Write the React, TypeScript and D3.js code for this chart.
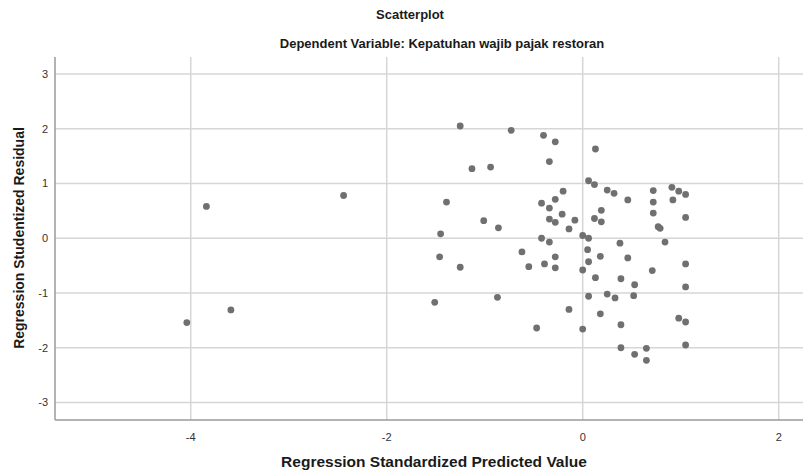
import React from "react";
import * as d3 from "d3";

// residual scatter, values
const predicted = [
  -1.25, -0.73, -0.4, -0.28, 0.13, -0.34, -1.13, -0.94, 0.06, 0.12,
  -0.2, -1.39, -0.28, -0.42, -0.34, 0.19, -0.21, -0.34, -0.28, -0.08,
  0.12, -1.01, -0.86, -0.14, -1.45, 0.0, 0.06, -0.42, -0.34, -1.46,
  -0.62, -0.28, 0.05, 0.18, -0.55, -0.39, -0.28, -1.25, 0.0, 0.06,
  0.13, -1.51, -0.87, 0.06, -0.14, 0.18, -0.47, 0.0, 0.25, 0.32,
  0.46, 0.72, 0.91, 0.98, 1.05, 0.72, 0.92, 0.19, 0.72, 1.05,
  0.77, 0.79, 0.38, 0.84, 0.46, 1.05, 0.71, 0.39, 0.53, 1.05,
  0.25, 0.33, 0.52, 0.98, 1.05, 0.39, 1.05, 0.39, 0.65, 0.53,
  0.65, -3.84, -2.44, -3.59, -4.04,
];
const residual = [
  2.05, 1.97, 1.88, 1.76, 1.63, 1.4, 1.27, 1.3, 1.05, 0.98,
  0.86, 0.66, 0.71, 0.64, 0.55, 0.51, 0.44, 0.35, 0.29, 0.33,
  0.36, 0.32, 0.19, 0.17, 0.08, 0.05, 0.0, 0.0, -0.07, -0.34,
  -0.25, -0.34, -0.21, -0.33, -0.52, -0.47, -0.54, -0.53, -0.58, -0.43,
  -0.72, -1.17, -1.08, -1.06, -1.3, -1.38, -1.64, -1.66, 0.88, 0.82,
  0.7, 0.87, 0.93, 0.86, 0.8, 0.66, 0.7, 0.3, 0.46, 0.38,
  0.21, 0.18, -0.09, -0.07, -0.36, -0.47, -0.59, -0.74, -0.85, -0.89,
  -1.02, -1.09, -1.05, -1.46, -1.53, -1.58, -1.95, -2.0, -2.01, -2.12,
  -2.23, 0.58, 0.78, -1.31, -1.54,
];
const xTicks = [-4, -2, 0, 2];
const yTicks = [3, 2, 1, 0, -1, -2, -3];

const W = 805;
const H = 473;
const left = 55;
const right = 803;
const top = 57;
const bottom = 420;

export default function App() {
  const x = d3.scaleLinear().domain([-5.385, 2.248]).range([left, right]);
  const y = d3.scaleLinear().domain([-3.32, 3.31]).range([bottom, top]);
  const pts = d3.zip(predicted, residual);

  return (
    <svg
      width={W}
      height={H}
      style={{ position: "absolute", left: 0, top: 0, background: "#fff" }}
      fontFamily="'Liberation Sans', Arial, sans-serif"
    >
      <text x={410} y={19} textAnchor="middle" fontSize={13} fontWeight="bold" fill="#1a1a1a">
        Scatterplot
      </text>
      <text x={442} y={48} textAnchor="middle" fontSize={13} fontWeight="bold" fill="#1a1a1a">
        Dependent Variable: Kepatuhan wajib pajak restoran
      </text>

      {/* grid */}
      {yTicks.map((t) => (
        <line key={"gy" + t} x1={left} x2={right} y1={y(t)} y2={y(t)} stroke="#d6d6d6" strokeWidth={1.5} />
      ))}
      {xTicks.map((t) => (
        <line key={"gx" + t} x1={x(t)} x2={x(t)} y1={top} y2={bottom} stroke="#d6d6d6" strokeWidth={1.5} />
      ))}

      {/* axes */}
      <line x1={left} x2={left} y1={top} y2={bottom} stroke="#9a9a9a" strokeWidth={1.5} />
      <line x1={left} x2={right} y1={bottom} y2={bottom} stroke="#9a9a9a" strokeWidth={1.5} />

      {yTicks.map((t) => (
        <text key={"ly" + t} x={48} y={y(t) + 4} textAnchor="end" fontSize={11} fill="#333">
          {t}
        </text>
      ))}
      {xTicks.map((t) => (
        <text key={"lx" + t} x={x(t)} y={441} textAnchor="middle" fontSize={11} fill="#333">
          {t}
        </text>
      ))}

      <text x={434} y={467} textAnchor="middle" fontSize={15.5} fontWeight="bold" fill="#1a1a1a">
        Regression Standardized Predicted Value
      </text>
      <text
        transform={`translate(24, ${238}) rotate(-90)`}
        textAnchor="middle"
        fontSize={14}
        fontWeight="bold"
        fill="#1a1a1a"
      >
        Regression Studentized Residual
      </text>

      {pts.map(([px, py], i) => (
        <circle key={i} cx={x(px)} cy={y(py)} r={3.4} fill="#707070" />
      ))}
    </svg>
  );
}
